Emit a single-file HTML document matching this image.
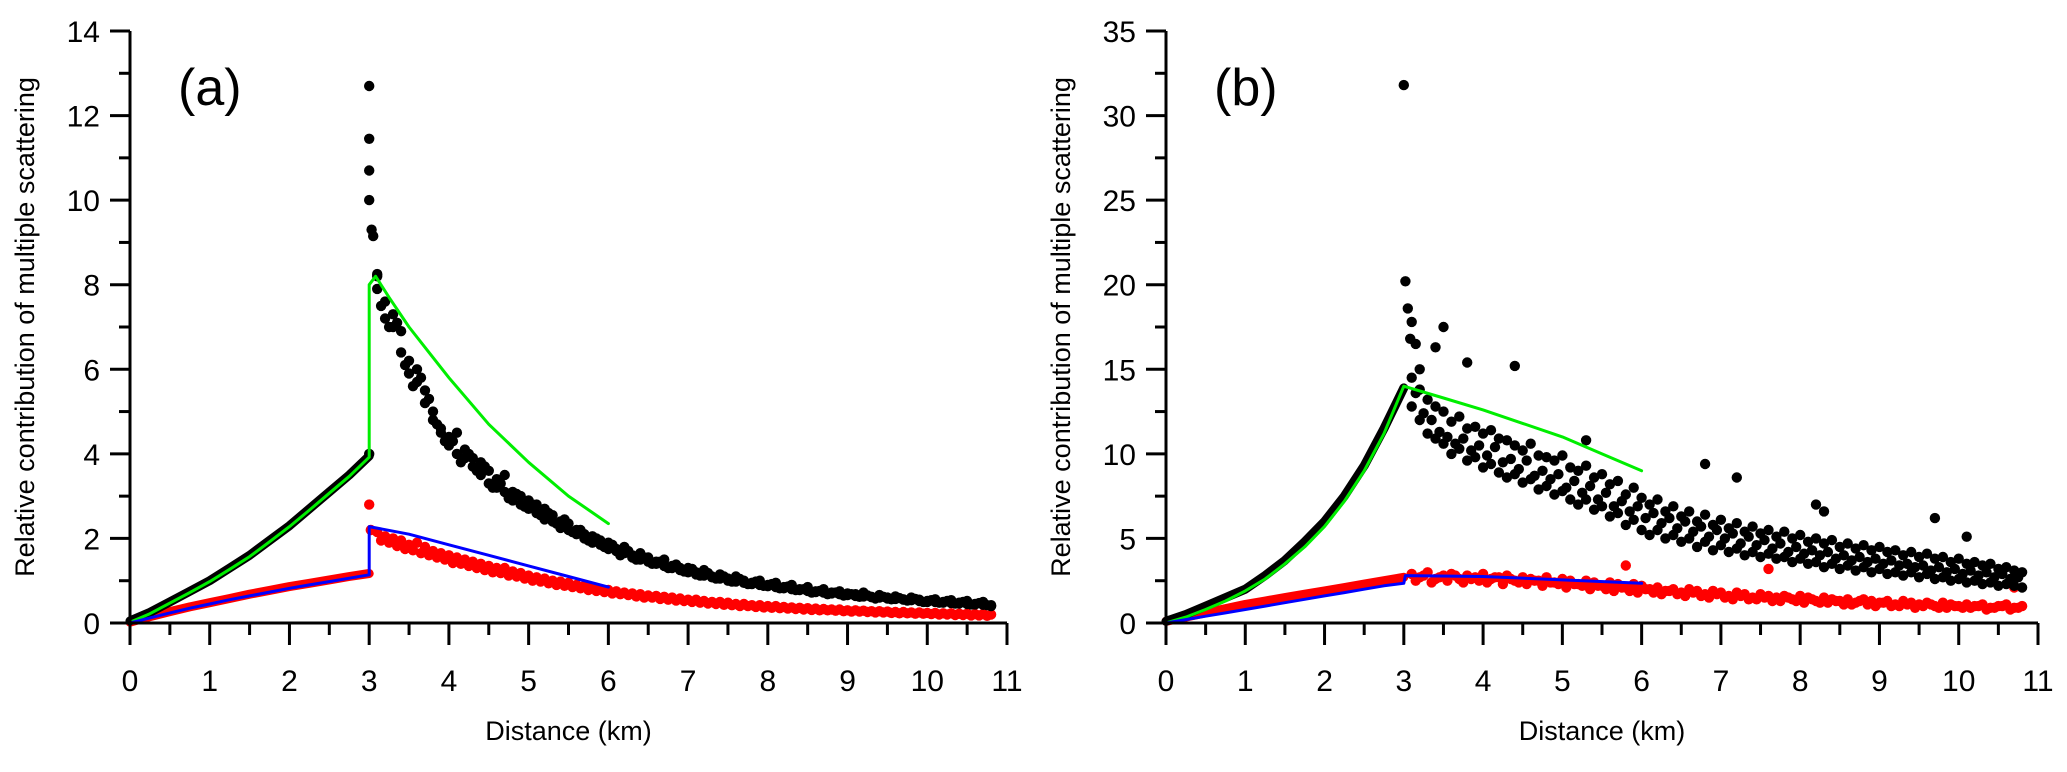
<!DOCTYPE html>
<html><head><meta charset="utf-8"><style>
html,body{margin:0;padding:0;background:#fff;}
svg{display:block;font-family:"Liberation Sans",Arial,sans-serif;}
</style></head><body>
<svg id="chart" width="2067" height="772" viewBox="0 0 2067 772" xmlns="http://www.w3.org/2000/svg"></svg>
<script>
// ---- shared data ----
const xTicks = [0,1,2,3,4,5,6,7,8,9,10,11];
const yTicksA = [0,2,4,6,8,10,12,14];
const yTicksB = [0,5,10,15,20,25,30,35];
const preDist = [0,0.25,0.5,0.75,1,1.25,1.5,1.75,2,2.25,2.5,2.75,3];
const distGrid = [3.1,3.2,3.3,3.4,3.5,3.6,3.7,3.8,3.9,4.0,4.1,4.2,4.3,4.4,4.5,4.6,4.7,4.8,4.9,5.0,5.1,5.2,5.3,5.4,5.5,5.6,5.7,5.8,5.9,6.0,6.1,6.2,6.3,6.4,6.5,6.6,6.7,6.8,6.9,7.0,7.1,7.2,7.3,7.4,7.5,7.6,7.7,7.8,7.9,8.0,8.1,8.2,8.3,8.4,8.5,8.6,8.7,8.8,8.9,9.0,9.1,9.2,9.3,9.4,9.5,9.6,9.7,9.8,9.9,10.0,10.1,10.2,10.3,10.4,10.5,10.6,10.7,10.8];
const distGridHalf = [3.15,3.25,3.35,3.45,3.55,3.65,3.75,3.85,3.95,4.05,4.15,4.25,4.35,4.45,4.55,4.65,4.75,4.85,4.95,5.05,5.15,5.25,5.35,5.45,5.55,5.65,5.75,5.85,5.95,6.05,6.15,6.25,6.35,6.45,6.55,6.65,6.75,6.85,6.95,7.05,7.15,7.25,7.35,7.45,7.55,7.65,7.75,7.85,7.95,8.05,8.15,8.25,8.35,8.45,8.55,8.65,8.75,8.85,8.95,9.05,9.15,9.25,9.35,9.45,9.55,9.65,9.75,9.85,9.95,10.05,10.15,10.25,10.35,10.45,10.55,10.65,10.75];

// ---- panel (a) ----
const blackPreA = [0.05,0.25,0.5,0.75,1.0,1.3,1.6,1.95,2.3,2.7,3.1,3.5,3.95];
const greenPreA = [0.02,0.22,0.47,0.72,0.98,1.27,1.57,1.92,2.28,2.67,3.07,3.47,3.92];
const redPreA = [0.02,0.15,0.27,0.38,0.48,0.58,0.68,0.77,0.86,0.94,1.02,1.1,1.17];
const bluePreA = [0,0.12,0.24,0.35,0.45,0.55,0.64,0.73,0.82,0.9,0.98,1.06,1.14];
const greenPostDistA = [3.0,3.0,3.08,3.25,3.5,3.75,4,4.5,5,5.5,6];
const greenPostA = [3.92,8.0,8.2,7.7,7.0,6.4,5.8,4.7,3.8,3.0,2.35];
const bluePostDistA = [3.0,3.0,3.5,4,4.5,5,5.5,6];
const bluePostA = [1.14,2.28,2.1,1.85,1.6,1.35,1.1,0.85];
const blackGridA = [8.2,7.6,7.3,6.9,5.9,6.0,5.5,5.0,4.6,4.4,4.5,4.1,3.9,3.8,3.6,3.4,3.5,3.1,3.0,2.9,2.8,2.7,2.55,2.4,2.35,2.2,2.1,2.05,1.95,1.9,1.75,1.8,1.6,1.65,1.55,1.45,1.5,1.35,1.3,1.3,1.2,1.25,1.1,1.15,1.05,1.1,1.0,0.95,1.0,0.9,0.95,0.85,0.9,0.8,0.85,0.75,0.8,0.72,0.75,0.7,0.68,0.72,0.62,0.66,0.6,0.63,0.56,0.6,0.55,0.52,0.56,0.5,0.54,0.48,0.52,0.45,0.5,0.42];
const blackGridA2 = [7.9,7.2,7.0,6.4,6.2,5.7,5.2,4.8,4.5,4.2,4.0,3.9,3.7,3.5,3.3,3.2,3.1,2.9,2.8,2.7,2.6,2.45,2.4,2.25,2.2,2.1,2.0,1.9,1.85,1.75,1.7,1.65,1.55,1.5,1.45,1.4,1.35,1.3,1.25,1.2,1.15,1.12,1.08,1.05,1.0,0.98,0.95,0.92,0.9,0.87,0.85,0.82,0.8,0.78,0.76,0.73,0.72,0.7,0.68,0.66,0.64,0.63,0.61,0.6,0.58,0.57,0.55,0.54,0.52,0.5,0.5,0.48,0.47,0.46,0.45,0.44,0.43,0.4];
const blackHalfA = [7.5,7.0,7.1,6.1,5.6,5.8,5.3,4.7,4.3,4.3,3.8,4.0,3.6,3.7,3.2,3.3,2.95,3.05,2.75,2.8,2.55,2.6,2.35,2.45,2.15,2.2,1.95,2.0,1.8,1.85,1.6,1.7,1.5,1.55,1.4,1.45,1.3,1.38,1.22,1.28,1.12,1.18,1.05,1.1,0.98,1.04,0.92,0.98,0.88,0.92,0.82,0.86,0.78,0.8,0.72,0.76,0.68,0.72,0.65,0.68,0.62,0.65,0.58,0.62,0.56,0.59,0.53,0.57,0.5,0.54,0.48,0.52,0.46,0.5,0.44,0.47,0.42];
const redGridA = [2.15,2.05,2.0,1.95,1.85,1.9,1.8,1.7,1.65,1.6,1.55,1.5,1.45,1.4,1.35,1.3,1.3,1.22,1.18,1.12,1.08,1.05,1.0,0.98,0.95,0.9,0.88,0.85,0.8,0.78,0.75,0.72,0.7,0.68,0.65,0.64,0.62,0.6,0.58,0.55,0.55,0.52,0.5,0.5,0.48,0.45,0.45,0.42,0.42,0.4,0.4,0.38,0.37,0.36,0.35,0.34,0.33,0.32,0.32,0.3,0.3,0.29,0.28,0.28,0.27,0.26,0.26,0.25,0.25,0.24,0.24,0.23,0.23,0.22,0.22,0.21,0.21,0.2];
const redGridA2 = [1.95,1.9,1.82,1.75,1.72,1.65,1.6,1.55,1.5,1.42,1.4,1.35,1.3,1.25,1.2,1.18,1.12,1.1,1.05,1.0,0.98,0.94,0.9,0.88,0.85,0.82,0.78,0.76,0.73,0.7,0.68,0.66,0.63,0.6,0.6,0.57,0.55,0.53,0.52,0.5,0.48,0.46,0.45,0.43,0.42,0.4,0.4,0.38,0.37,0.36,0.35,0.34,0.33,0.32,0.31,0.3,0.3,0.29,0.28,0.27,0.27,0.26,0.25,0.25,0.24,0.23,0.23,0.22,0.22,0.21,0.2,0.2,0.19,0.19,0.18,0.18,0.17,0.17];
const spikeDistA = [3.0,3.0,3.0,3.0,3.03,3.05,3.1,3.0];
const spikeBlackA = [12.7,11.45,10.7,10.0,9.3,9.15,8.25,4.0];
const spikeRedDistA = [3.0,3.02];
const spikeRedA = [2.8,2.2];

// ---- panel (b) ----
const blackPreB = [0.1,0.5,1.0,1.5,2.0,2.8,3.7,4.8,6.0,7.5,9.3,11.5,13.9];
const greenPreB = [0,0.35,0.8,1.3,1.9,2.6,3.5,4.5,5.7,7.2,9.0,11.2,14.0];
const redPreB = [0.1,0.35,0.6,0.85,1.1,1.3,1.5,1.7,1.9,2.1,2.3,2.5,2.7];
const bluePreB = [0,0.2,0.4,0.6,0.8,1.0,1.2,1.4,1.6,1.8,2.0,2.2,2.35];
const greenPostDistB = [3.0,3.5,4,4.5,5,5.5,6];
const greenPostB = [14.0,13.3,12.6,11.8,11.0,10.0,9.0];
const bluePostDistB = [3.0,3.02,4,5,6];
const bluePostB = [2.35,2.8,2.75,2.55,2.35];
const blackGridB1 = [14.5,13.8,13.2,12.8,12.5,11.9,12.2,11.5,11.6,11.2,11.4,10.9,10.8,10.5,10.2,10.6,9.9,9.8,9.6,9.9,9.2,9.0,9.3,8.6,8.8,8.2,8.4,7.6,8.0,7.4,7.0,7.3,6.6,6.9,6.3,6.6,6.0,6.4,5.8,6.1,5.6,5.9,5.4,5.7,5.3,5.5,5.1,5.4,5.0,5.2,4.8,5.0,4.7,4.9,4.5,4.7,4.4,4.6,4.3,4.5,4.2,4.3,4.0,4.2,3.9,4.1,3.8,3.9,3.6,3.8,3.5,3.6,3.4,3.5,3.2,3.3,3.1,3.0];
const blackGridB2 = [12.8,12.0,11.2,10.9,10.6,10.0,10.3,9.6,9.8,9.2,9.4,8.9,8.6,8.8,8.3,8.5,7.9,8.1,7.6,7.8,7.3,7.0,7.3,6.7,6.9,6.3,6.5,5.8,6.1,5.5,5.2,5.5,5.0,5.2,4.8,5.0,4.5,4.8,4.3,4.6,4.2,4.4,4.0,4.2,3.9,4.1,3.8,3.9,3.6,3.8,3.5,3.6,3.3,3.5,3.2,3.4,3.1,3.3,3.0,3.2,2.9,3.0,2.8,3.0,2.7,2.9,2.6,2.7,2.5,2.6,2.4,2.5,2.3,2.4,2.2,2.3,2.2,2.1];
const blackHalfB = [13.6,12.4,12.0,11.3,11.0,10.6,10.9,10.2,10.5,9.9,10.4,9.5,9.7,9.1,9.6,8.7,9.0,8.5,8.8,8.0,8.4,7.7,8.1,7.3,7.7,6.9,7.2,6.6,6.9,6.2,6.5,5.9,6.2,5.6,6.0,5.4,5.7,5.1,5.5,5.0,5.3,4.7,5.1,4.6,4.9,4.4,4.7,4.2,4.5,4.1,4.3,4.0,4.2,3.8,4.0,3.7,3.9,3.6,3.8,3.5,3.7,3.4,3.5,3.3,3.4,3.1,3.3,3.0,3.2,2.9,3.1,2.8,3.0,2.7,2.9,2.6,2.7];
const outlierDistB = [3.0,3.02,3.05,3.08,3.1,3.15,3.2,3.4,3.5,3.8,4.4,5.3,6.8,7.2,8.2,8.3,9.7,10.1];
const outlierBlackB = [31.8,20.2,18.6,16.8,17.8,16.5,15.0,16.3,17.5,15.4,15.2,10.8,9.4,8.6,7.0,6.6,6.2,5.1];
const redGridB = [2.9,2.7,3.0,2.6,2.8,2.9,2.6,2.8,2.7,2.9,2.6,2.7,2.8,2.5,2.7,2.6,2.5,2.7,2.4,2.6,2.5,2.3,2.5,2.4,2.2,2.4,2.3,2.1,2.3,2.2,2.0,2.1,1.9,2.0,1.8,2.0,1.9,1.7,1.9,1.8,1.6,1.8,1.7,1.5,1.7,1.6,1.5,1.6,1.4,1.6,1.5,1.3,1.5,1.4,1.3,1.4,1.2,1.4,1.3,1.2,1.3,1.1,1.3,1.2,1.1,1.2,1.0,1.2,1.1,1.0,1.1,1.0,1.1,0.9,1.0,1.1,0.9,1.0];
const redHalfB = [2.5,2.8,2.4,2.7,2.5,2.8,2.4,2.6,2.5,2.4,2.7,2.3,2.6,2.4,2.3,2.5,2.2,2.4,2.3,2.1,2.3,2.2,2.0,2.2,2.0,1.9,2.1,1.9,1.8,2.0,1.8,1.7,1.9,1.7,1.6,1.8,1.6,1.5,1.7,1.5,1.4,1.6,1.4,1.4,1.5,1.3,1.3,1.5,1.3,1.2,1.4,1.2,1.2,1.3,1.1,1.1,1.3,1.1,1.0,1.2,1.0,1.0,1.1,0.9,1.0,1.1,0.9,0.9,1.0,0.9,0.9,1.0,0.8,0.9,1.0,0.8,0.9];
const redOutDistB = [5.8,7.6,10.7];
const redOutB = [3.4,3.2,2.1];

const NS = "http://www.w3.org/2000/svg";
const svg = document.getElementById('chart');
function mk(tag, attrs, parent){ const e=document.createElementNS(NS,tag); for(const k in attrs) e.setAttribute(k,attrs[k]); (parent||svg).appendChild(e); return e; }

function panel(cfg){
  const g = mk('g',{});
  
  
  const X = v => cfg.x0 + (v/11)*(cfg.x1-cfg.x0);
  const Y = v => cfg.y0 - (v/cfg.ymax)*(cfg.y0-cfg.y1);
  const line = (xs, ys, color, w, nm) => {
    const n=Math.min(xs.length,ys.length); let d='';
    for(let i=0;i<n;i++) d+=(i?'L':'M')+X(xs[i]).toFixed(1)+' '+Y(ys[i]).toFixed(1);
    const p = mk('path',{d:d,fill:'none',stroke:color,'stroke-width':w,'stroke-linejoin':'round','stroke-linecap':'round'},g);
    
    
  };
  const dots = (xs, ys, color, nm) => {
    const gg = mk('g',{fill:color},g);
    
    
    const n=Math.min(xs.length,ys.length);
    for(let i=0;i<n;i++){ mk('circle',{cx:X(xs[i]).toFixed(1),cy:Y(ys[i]).toFixed(1),r:5.2},gg); }
  };
  line(preDist, cfg.redPre, '#ff0000', 9, 'red-series-near');
  dots(distGrid, cfg.redGrid, '#ff0000', 'red-scatter');
  dots(cfg.redGrid2X, cfg.redGrid2, '#ff0000', 'red-scatter-2');
  dots(cfg.redOutX, cfg.redOut, '#ff0000', 'red-outliers');
  line(preDist, cfg.blackPre, '#000', 9, 'black-series-near');
  dots(distGrid, cfg.blackGrid, '#000', 'black-scatter');
  dots(distGrid, cfg.blackGrid2, '#000', 'black-scatter-2');
  dots(distGridHalf, cfg.blackHalf, '#000', 'black-scatter-3');
  dots(cfg.blackOutX, cfg.blackOut, '#000', 'black-outliers');
  line(preDist.concat(cfg.greenPostX), cfg.greenPre.concat(cfg.greenPost), '#00ee00', 3, 'green-model-line');
  line(preDist.concat(cfg.bluePostX), cfg.bluePre.concat(cfg.bluePost), '#0000ff', 3, 'blue-model-line');
  const ax = mk('g',{stroke:'#000','stroke-width':3,fill:'none'},g);
  
  
  mk('line',{x1:cfg.x0,y1:cfg.y1,x2:cfg.x0,y2:cfg.y0+1.5},ax);
  mk('line',{x1:cfg.x0-1.5,y1:cfg.y0,x2:cfg.x1,y2:cfg.y0},ax);
  xTicks.forEach((t,i)=>{
    mk('line',{x1:X(t),y1:cfg.y0,x2:X(t),y2:cfg.y0+22},ax);
    if(i<xTicks.length-1) mk('line',{x1:X(t+0.5),y1:cfg.y0,x2:X(t+0.5),y2:cfg.y0+12},ax);
    const tx = mk('text',{x:X(t),y:cfg.y0+68,'text-anchor':'middle','font-size':30,fill:'#000',stroke:'none'},g);
    tx.textContent = t;
    
    
  });
  const yt = cfg.yTicks, step = yt[1]-yt[0];
  yt.forEach((t,i)=>{
    mk('line',{x1:cfg.x0-20,y1:Y(t),x2:cfg.x0,y2:Y(t)},ax);
    if(i<yt.length-1) mk('line',{x1:cfg.x0-11,y1:Y(t+step/2),x2:cfg.x0,y2:Y(t+step/2)},ax);
    const tx = mk('text',{x:cfg.x0-30,y:Y(t)+11,'text-anchor':'end','font-size':30,fill:'#000',stroke:'none'},g);
    tx.textContent = t;
    
    
  });
  const xt = mk('text',{x:(cfg.x0+cfg.x1)/2,y:740,'text-anchor':'middle','font-size':27,fill:'#000'},g);
  xt.textContent='Distance (km)';
  
  
  const ytl = mk('text',{x:0,y:0,'text-anchor':'middle','font-size':27,fill:'#000',transform:`translate(${cfg.x0-96},${(cfg.y0+cfg.y1)/2}) rotate(-90)`},g);
  ytl.textContent='Relative contribution of multiple scattering';
  
  
  const pl = mk('text',{x:cfg.x0+48,y:105,'font-size':52,fill:'#000'},g);
  pl.textContent=cfg.label;
  
  
}

panel({name:'panel-a',label:'(a)',x0:130,x1:1007,y0:623,y1:31,ymax:14,yTicks:yTicksA,
  blackPre:blackPreA,greenPre:greenPreA,redPre:redPreA,bluePre:bluePreA,
  greenPostX:greenPostDistA,greenPost:greenPostA,bluePostX:bluePostDistA,bluePost:bluePostA,
  blackGrid:blackGridA,blackGrid2:blackGridA2,blackHalf:blackHalfA,redGrid:redGridA,redGrid2X:distGridHalf,redGrid2:redGridA2,
  blackOutX:spikeDistA,blackOut:spikeBlackA,redOutX:spikeRedDistA,redOut:spikeRedA});
panel({name:'panel-b',label:'(b)',x0:1166,x1:2038,y0:623,y1:31,ymax:35,yTicks:yTicksB,
  blackPre:blackPreB,greenPre:greenPreB,redPre:redPreB,bluePre:bluePreB,
  greenPostX:greenPostDistB,greenPost:greenPostB,bluePostX:bluePostDistB,bluePost:bluePostB,
  blackGrid:blackGridB1,blackGrid2:blackGridB2,blackHalf:blackHalfB,redGrid:redGridB,redGrid2X:distGridHalf,redGrid2:redHalfB,
  blackOutX:outlierDistB,blackOut:outlierBlackB,redOutX:redOutDistB,redOut:redOutB});
</script>
</body></html>
